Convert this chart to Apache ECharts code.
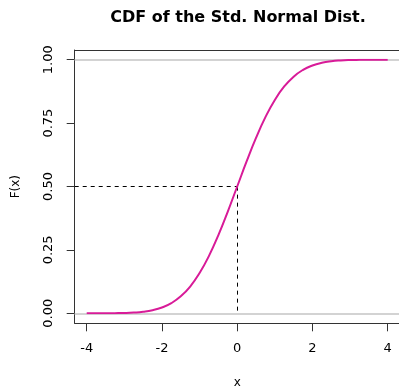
<!DOCTYPE html>
<html><head><meta charset="utf-8">
<script src="https://cdn.jsdelivr.net/npm/echarts@6/dist/echarts.min.js"></script>
<style>html,body{margin:0;padding:0;background:#fff}#c{width:399px;height:388px}</style>
</head><body><div id="c"></div>
<script>
// Data
const xValues = [-4,-3.75,-3.5,-3.25,-3,-2.75,-2.5,-2.25,-2,-1.75,-1.5,-1.25,-1,-0.75,-0.5,-0.25,0,0.25,0.5,0.75,1,1.25,1.5,1.75,2,2.25,2.5,2.75,3,3.25,3.5,3.75,4];
const cdfValues = [0.0000,0.0001,0.0002,0.0006,0.0013,0.0030,0.0062,0.0122,0.0228,0.0401,0.0668,0.1056,0.1587,0.2266,0.3085,0.4013,0.5000,0.5987,0.6915,0.7734,0.8413,0.8944,0.9332,0.9599,0.9772,0.9878,0.9938,0.9970,0.9987,0.9994,0.9998,0.9999,1.0000];
const xTicks = [-4,-2,0,2,4];
const yTicks = [0,0.25,0.5,0.75,1];
const refLines = [0,1];
const guidePoint = [0,0.5];

const FONT = '"DejaVu Sans", "Noto Sans", sans-serif';
const chart = echarts.init(document.getElementById('c'), null, {renderer:'canvas'});
const xr = 4.32, yLo = -0.0389, yHi = 1.0389;
const boxAxis = {show:true, onZero:false, lineStyle:{color:'#333', width:1}};
chart.setOption({
  animation:false,
  title:{text:'CDF of the Std. Normal Dist.', left:233, top:5, textAlign:'center',
    textStyle:{fontFamily:FONT, fontSize:16, fontWeight:'bold', color:'#000'}},
  grid:[
    {left:74.7, top:50, width:325.3, height:273.3, outerBoundsMode:'none', containLabel:false},
    {left:86.7, top:59.7, width:301, height:253.6, outerBoundsMode:'none', containLabel:false}
  ],
  xAxis:[
    {type:'value', gridIndex:0, min:-xr, max:xr, position:'bottom', axisLine:boxAxis, axisTick:{show:false}, axisLabel:{show:false}, splitLine:{show:false},
      name:'x', nameLocation:'middle', nameGap:54, nameTextStyle:{fontFamily:FONT, fontSize:12, color:'#000'}},
    {type:'value', gridIndex:0, min:-xr, max:xr, position:'top', axisLine:boxAxis, axisTick:{show:false}, axisLabel:{show:false}, splitLine:{show:false}},
    {type:'value', gridIndex:1, min:xTicks[0], max:xTicks[xTicks.length-1], interval:2, position:'bottom', offset:10,
      axisLine:{show:false, onZero:false}, axisTick:{show:true, inside:false, length:8, lineStyle:{color:'#333'}},
      axisLabel:{fontFamily:FONT, fontSize:13, color:'#000', margin:19}, splitLine:{show:false}}
  ],
  yAxis:[
    {type:'value', gridIndex:0, min:yLo, max:yHi, position:'left', axisLine:boxAxis, axisTick:{show:false}, axisLabel:{show:false}, splitLine:{show:false},
      name:'F(x)', nameLocation:'middle', nameRotate:90, nameGap:53, nameTextStyle:{fontFamily:FONT, fontSize:12, color:'#000'}},
    {type:'value', gridIndex:0, min:yLo, max:yHi, position:'right', axisLine:boxAxis, axisTick:{show:false}, axisLabel:{show:false}, splitLine:{show:false}},
    {type:'value', gridIndex:1, min:yTicks[0], max:yTicks[yTicks.length-1], interval:0.25, position:'left', offset:12,
      axisLine:{show:false, onZero:false}, axisTick:{show:true, inside:false, length:8, lineStyle:{color:'#333'}},
      axisLabel:{fontFamily:FONT, fontSize:13, color:'#000', margin:20, rotate:90, formatter:v=>v.toFixed(2)}, splitLine:{show:false}}
  ],
  series:[
    {type:'line', xAxisIndex:0, yAxisIndex:0, data:[], silent:true,
      markLine:{symbol:'none', silent:true, label:{show:false},
        data:[
          ...refLines.map(v=>[{coord:[-xr, v], lineStyle:{color:'#d3d3d3', width:2, type:'solid'}},{coord:[xr, v]}]),
          [{coord:[-xr, guidePoint[1]], lineStyle:{color:'#000', width:1, type:[4,4]}},{coord:[guidePoint[0], guidePoint[1]]}],
          [{coord:[guidePoint[0], guidePoint[1]], lineStyle:{color:'#000', width:1, type:[4,4]}},{coord:[guidePoint[0], refLines[0]]}]
        ]}},
    {type:'line', xAxisIndex:2, yAxisIndex:2, data:xValues.map((x,i)=>[x,cdfValues[i]]),
      smooth:true, showSymbol:false, lineStyle:{color:'#D81B98', width:2}, z:5}
  ]
});
</script></body></html>
